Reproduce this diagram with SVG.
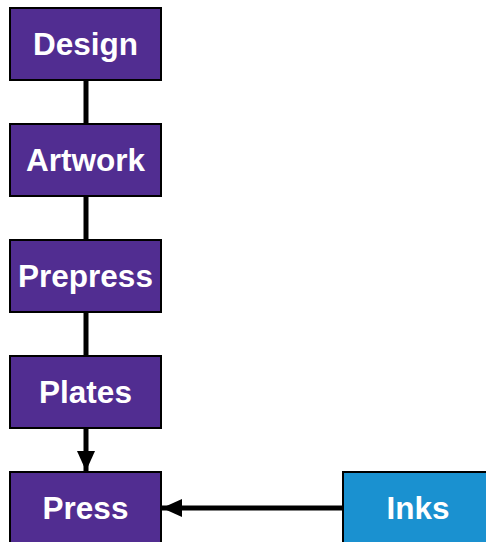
<svg xmlns="http://www.w3.org/2000/svg" width="486" height="542" viewBox="0 0 486 542">
<style>
.box{fill:#512d91;stroke:#000;stroke-width:2}
.ink{fill:#1a91d0;stroke:#000;stroke-width:2}
.t{font-family:"Liberation Sans",Arial,sans-serif;font-weight:bold;font-size:31.5px;fill:#fff;text-anchor:middle}
.c{stroke:#000;stroke-width:5;fill:none}
</style>
<defs>
<marker id="ah" markerUnits="userSpaceOnUse" markerWidth="22" markerHeight="20" refX="20" refY="9" orient="auto">
<path d="M0,0 L20,9 L0,18 Z" fill="#000"/>
</marker>
</defs>
<g id="connectors">
<line class="c" x1="86" y1="80" x2="86" y2="124"/>
<line class="c" x1="86" y1="196" x2="86" y2="240"/>
<line class="c" x1="86" y1="312" x2="86" y2="356"/>
<line class="c" x1="86" y1="428" x2="86" y2="471" marker-end="url(#ah)"/>
<line class="c" x1="343" y1="508" x2="162" y2="508" marker-end="url(#ah)"/>
</g>
<g id="design"><rect class="box" x="10" y="8" width="151" height="72"/><text class="t" x="85.5" y="55">Design</text></g>
<g id="artwork"><rect class="box" x="10" y="124" width="151" height="72"/><text class="t" x="85.5" y="171">Artwork</text></g>
<g id="prepress"><rect class="box" x="10" y="240" width="151" height="72"/><text class="t" x="85.5" y="287">Prepress</text></g>
<g id="plates"><rect class="box" x="10" y="356" width="151" height="72"/><text class="t" x="85.5" y="403">Plates</text></g>
<g id="press"><rect class="box" x="10" y="472" width="151" height="72"/><text class="t" x="85.5" y="519">Press</text></g>
<g id="inks"><rect class="ink" x="343" y="472" width="150" height="72"/><text class="t" x="418" y="519">Inks</text></g>
</svg>
